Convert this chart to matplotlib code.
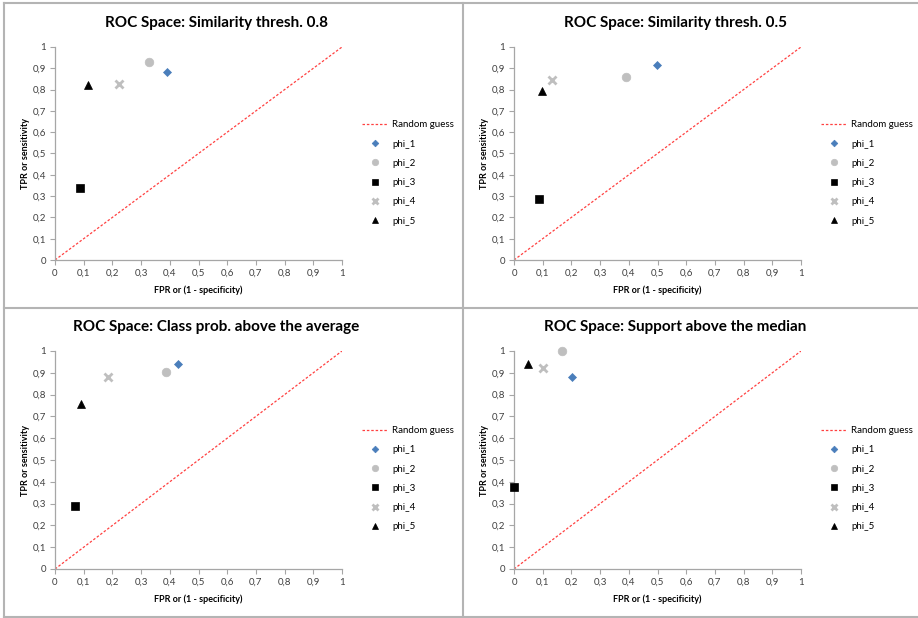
import matplotlib
matplotlib.use("Agg")
import matplotlib.pyplot as plt
from matplotlib.lines import Line2D
from matplotlib.ticker import FuncFormatter, MultipleLocator

plt.rcParams['font.family'] = ['Lato', 'DejaVu Sans']

titles = ["ROC Space: Similarity thresh. 0.8",
          "ROC Space: Similarity thresh. 0.5",
          "ROC Space: Class prob. above the average",
          "ROC Space: Support above the median"]
labels = ["phi_1", "phi_2", "phi_3", "phi_4", "phi_5"]

# (FPR, TPR) per classifier, one list per panel
fpr_08 = [0.389, 0.326, 0.088, 0.222, 0.116]
tpr_08 = [0.884, 0.930, 0.337, 0.826, 0.822]
fpr_05 = [0.498, 0.389, 0.088, 0.131, 0.099]
tpr_05 = [0.915, 0.859, 0.288, 0.847, 0.795]
fpr_avg = [0.430, 0.388, 0.069, 0.186, 0.089]
tpr_avg = [0.942, 0.905, 0.288, 0.882, 0.759]
fpr_med = [0.203, 0.168, 0.0, 0.100, 0.049]
tpr_med = [0.881, 1.000, 0.378, 0.920, 0.939]

panels = [(fpr_08, tpr_08), (fpr_05, tpr_05), (fpr_avg, tpr_avg), (fpr_med, tpr_med)]

markers = ['D', 'o', 's', 'x', '^']
colors = ['#4a7ebb', '#bfbfbf', '#000000', '#bfbfbf', '#000000']
sizes = [4.5, 6.2, 6.3, 5.6, 5.2]

W, H = 918, 618
fig = plt.figure(figsize=(W / 100, H / 100), dpi=100)

# axes boxes in pixels: left, top, right, bottom
boxes = [(55, 47, 342, 260), (514, 47, 801, 260),
         (55, 351, 342, 569), (514, 351, 801, 569)]
title_y = [23, 23, 327, 327]


def fmt(v, pos):
    if abs(v) < 1e-9:
        return "0"
    if abs(v - 1) < 1e-9:
        return "1"
    return ("%.1f" % v).replace(".", ",")


for i, (fx, ty) in enumerate(panels):
    l, t, r, b = boxes[i]
    ax = fig.add_axes([l / W, 1 - b / H, (r - l) / W, (b - t) / H])
    ax.plot([0, 1], [0, 1], color='#ff4040', lw=0.9, linestyle=(0, (2, 1.5)),
            label="Random guess", zorder=1)
    for k in range(5):
        mew = 2.0 if markers[k] == 'x' else 0.5
        ax.plot(fx[k], ty[k], linestyle='none', marker=markers[k], ms=sizes[k],
                color=colors[k], mec=colors[k], mew=mew, label=labels[k],
                clip_on=False, zorder=3)
    ax.set_xlim(0, 1)
    ax.set_ylim(0, 1)
    ax.xaxis.set_major_locator(MultipleLocator(0.1))
    ax.yaxis.set_major_locator(MultipleLocator(0.1))
    ax.xaxis.set_major_formatter(FuncFormatter(fmt))
    ax.yaxis.set_major_formatter(FuncFormatter(fmt))
    for s in ['top', 'right']:
        ax.spines[s].set_visible(False)
    for s in ['left', 'bottom']:
        ax.spines[s].set_color('#a6a6a6')
        ax.spines[s].set_linewidth(0.9)
    ax.tick_params(direction='out', length=3.5, width=0.8, color='#a6a6a6',
                   labelsize=7, labelcolor='#404040', pad=3)
    ax.set_xlabel("FPR or (1 - specificity)", fontsize=6.5, fontweight='bold',
                  labelpad=5)
    ax.set_ylabel("TPR or sensitivity", fontsize=6.5, fontweight='bold',
                  labelpad=2)
    cx = (l + r) / 2 + 18
    fig.text(cx / W, 1 - title_y[i] / H, titles[i], ha='center', va='center',
             fontsize=11, fontweight='bold')
    ax.legend(loc='upper left', bbox_to_anchor=(1.07, 0.655), frameon=False,
              fontsize=7, handlelength=2.6, handletextpad=0.5, labelspacing=1.05,
              borderpad=0, borderaxespad=0, markerscale=0.75, numpoints=1)

# panel borders
bc = '#b4b4b4'
fig.add_artist(Line2D([3.5 / W, 3.5 / W], [0, 1 - 3 / H], color=bc, lw=1.5))
fig.add_artist(Line2D([3.5 / W, 1], [1 - 3 / H, 1 - 3 / H], color=bc, lw=1.5))
fig.add_artist(Line2D([462.5 / W, 462.5 / W], [0, 1 - 3 / H], color=bc, lw=1.5))
fig.add_artist(Line2D([3.5 / W, 1], [1 - 308 / H, 1 - 308 / H], color=bc, lw=1.5))
fig.add_artist(Line2D([3.5 / W, 1], [1 - 616.5 / H, 1 - 616.5 / H], color=bc, lw=1.5))

fig.savefig("out.png", dpi=100)
